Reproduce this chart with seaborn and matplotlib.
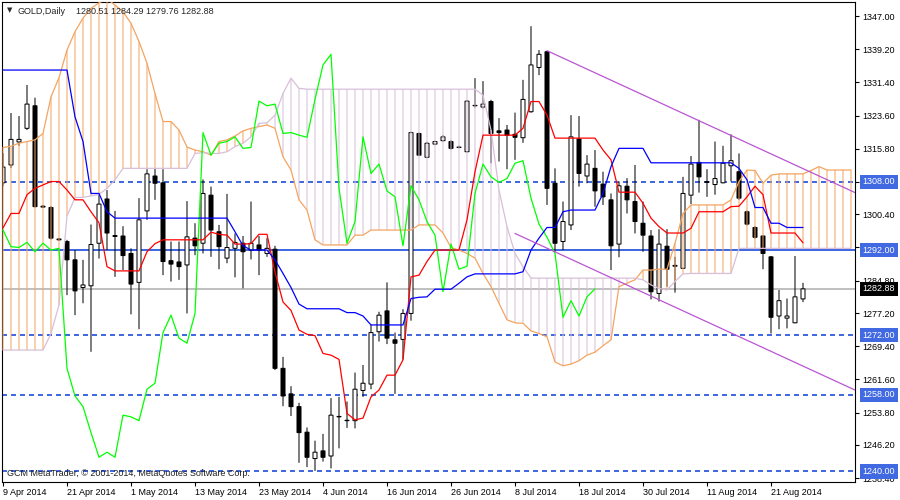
import matplotlib
matplotlib.use("Agg")
import numpy as np
import pandas as pd
import matplotlib.pyplot as plt
import seaborn as sns

# GOLD daily candles, one per trading day from 9 Apr 2014
opens = [1307.8, 1312.0, 1317.4, 1320.6, 1325.9, 1302.3, 1302.0, 1294.6, 1294.0, 1289.7,
         1283.2, 1283.6, 1293.6, 1304.0, 1295.4, 1295.3, 1291.2, 1284.4, 1301.2, 1309.4,
         1307.8, 1289.5, 1289.2, 1288.5, 1294.8, 1293.6, 1304.9, 1296.3, 1290.1, 1292.4,
         1293.6, 1292.0, 1293.2, 1291.2, 1292.2, 1264.2, 1258.2, 1255.2, 1249.2, 1243.0,
         1244.8, 1243.6, 1252.9, 1252.0, 1251.9, 1259.0, 1260.5, 1272.8, 1277.7, 1270.9,
         1271.0, 1277.1, 1319.4, 1313.8, 1316.9, 1317.7, 1317.5, 1316.2, 1315.1, 1326.0,
         1325.6, 1326.9, 1320.0, 1320.2, 1319.2, 1318.4, 1324.5, 1334.9, 1338.6, 1307.7,
         1294.0, 1297.9, 1318.1, 1309.4, 1311.2, 1307.5, 1303.8, 1293.4, 1307.0, 1303.4,
         1298.3, 1295.3, 1281.8, 1292.9, 1288.4, 1287.7, 1304.9, 1312.6, 1308.1, 1307.4,
         1307.8, 1311.8, 1310.4, 1301.0, 1297.3, 1295.3, 1290.4, 1276.5, 1276.0, 1274.9,
         1280.51]
highs = [1314.8, 1324.2, 1323.5, 1330.8, 1327.8, 1302.6, 1302.3, 1294.8, 1294.4, 1292.0,
         1289.7, 1298.0, 1305.3, 1306.1, 1301.2, 1297.6, 1292.4, 1304.2, 1311.0, 1311.2,
         1311.0, 1294.0, 1294.0, 1303.5, 1298.3, 1308.6, 1306.9, 1297.9, 1305.2, 1295.9,
         1295.3, 1303.4, 1295.3, 1294.8, 1293.0, 1266.9, 1260.0, 1256.1, 1250.3, 1247.2,
         1248.8, 1257.2, 1257.5, 1256.4, 1263.2, 1265.0, 1274.4, 1277.5, 1284.4, 1272.6,
         1278.1, 1319.8, 1319.6, 1317.4, 1317.7, 1319.0, 1317.8, 1316.5, 1327.2, 1332.4,
         1331.7, 1327.3, 1323.0, 1321.4, 1324.3, 1332.0, 1344.6, 1339.0, 1338.8, 1311.2,
         1303.4, 1323.7, 1323.5, 1314.3, 1315.5, 1310.4, 1305.3, 1308.1, 1308.9, 1312.0,
         1303.4, 1296.7, 1296.9, 1296.9, 1290.4, 1309.2, 1314.1, 1322.6, 1311.0, 1317.5,
         1316.5, 1319.2, 1314.7, 1301.3, 1297.6, 1295.5, 1290.6, 1282.6, 1280.6, 1290.6,
         1284.29]
lows = [1307.0, 1311.3, 1316.5, 1320.2, 1302.0, 1301.9, 1294.5, 1294.2, 1281.4, 1276.7,
        1279.5, 1268.1, 1290.0, 1292.0, 1285.7, 1287.3, 1276.9, 1273.4, 1299.1, 1303.8,
        1286.1, 1284.6, 1285.0, 1277.1, 1290.8, 1291.2, 1290.4, 1287.5, 1288.9, 1285.6,
        1283.0, 1289.8, 1286.1, 1290.4, 1263.8, 1255.3, 1253.0, 1242.0, 1241.0, 1240.1,
        1242.3, 1240.7, 1245.4, 1250.2, 1250.1, 1257.5, 1259.3, 1270.5, 1269.9, 1258.2,
        1266.3, 1275.4, 1314.2, 1313.8, 1316.7, 1317.5, 1315.6, 1315.9, 1315.0, 1325.5,
        1325.3, 1312.4, 1312.8, 1311.0, 1313.2, 1317.2, 1324.3, 1333.1, 1302.6, 1291.6,
        1292.0, 1296.7, 1306.9, 1307.7, 1302.2, 1302.6, 1287.3, 1290.3, 1300.6, 1295.9,
        1291.6, 1280.4, 1279.9, 1283.4, 1282.0, 1287.6, 1302.8, 1305.5, 1304.5, 1305.0,
        1307.7, 1308.1, 1303.8, 1297.8, 1294.7, 1287.5, 1272.4, 1273.4, 1273.6, 1274.8,
        1279.76]
closes = [1311.5, 1318.0, 1318.0, 1326.3, 1302.2, 1302.1, 1294.8, 1294.4, 1289.7, 1282.4,
          1283.8, 1293.3, 1302.8, 1296.0, 1295.2, 1290.7, 1284.0, 1299.1, 1309.9, 1307.7,
          1289.3, 1288.7, 1288.1, 1295.1, 1293.0, 1305.3, 1296.7, 1292.8, 1292.6, 1293.8,
          1291.6, 1293.6, 1292.0, 1292.4, 1264.2, 1257.7, 1255.2, 1249.1, 1243.3, 1244.5,
          1243.3, 1253.2, 1252.8, 1251.9, 1259.3, 1260.7, 1272.6, 1276.7, 1271.3, 1270.1,
          1277.1, 1319.6, 1314.3, 1317.1, 1317.5, 1318.6, 1315.9, 1316.1, 1327.0, 1325.9,
          1326.3, 1319.4, 1319.6, 1319.0, 1318.5, 1327.4, 1335.5, 1338.0, 1306.5, 1293.6,
          1298.7, 1318.6, 1310.0, 1312.2, 1305.9, 1304.5, 1293.0, 1307.1, 1303.8, 1298.7,
          1295.5, 1282.2, 1293.4, 1287.5, 1288.2, 1305.3, 1312.2, 1309.2, 1307.9, 1308.8,
          1312.4, 1313.0, 1304.2, 1298.1, 1295.0, 1291.2, 1276.2, 1280.1, 1276.5, 1281.0,
          1282.88]

# Ichimoku lines
tenkan = [1297.2, 1300.6, 1300.6, 1305.0, 1306.5, 1307.3, 1308.1, 1308.1, 1306.1, 1303.8,
          1303.8, 1301.0, 1298.4, 1288.1, 1287.1, 1287.1, 1287.1, 1287.1, 1291.6, 1293.5,
          1294.4, 1294.4, 1294.4, 1294.4, 1294.4, 1294.4, 1296.2, 1295.7, 1295.5, 1293.4,
          1293.4, 1293.5, 1295.7, 1295.7, 1286.8, 1279.8, 1277.8, 1273.2, 1272.2, 1271.9,
          1267.7, 1267.3, 1266.3, 1253.6, 1252.1, 1252.5, 1257.5, 1259.1, 1262.6, 1262.6,
          1266.2, 1285.7, 1286.1, 1289.3, 1292.0, 1292.0, 1292.0, 1292.0, 1299.1, 1310.4,
          1319.0, 1319.0, 1319.0, 1319.0, 1319.0, 1320.6, 1326.9, 1326.9, 1323.7, 1318.3,
          1318.3, 1318.3, 1318.3, 1318.3, 1318.3, 1315.5, 1313.2, 1305.6, 1305.6, 1305.6,
          1303.0, 1299.5, 1297.5, 1296.0, 1296.0, 1296.0, 1297.1, 1301.0, 1301.0, 1301.0,
          1301.0, 1302.2, 1302.3, 1304.5, 1307.0, 1305.0, 1296.0, 1296.0, 1296.0, 1296.0,
          1293.7]
kijun = [1334.3, 1334.3, 1334.3, 1334.3, 1334.3, 1334.3, 1334.3, 1334.3, 1334.3, 1323.3,
         1317.5, 1305.3, 1305.3, 1301.0, 1299.5, 1299.5, 1299.5, 1299.5, 1299.5, 1299.5,
         1299.5, 1299.5, 1299.5, 1299.5, 1299.5, 1299.5, 1299.5, 1299.5, 1299.5, 1296.3,
         1293.0, 1292.0, 1292.0, 1292.0, 1289.7, 1286.5, 1283.2, 1279.3, 1278.2, 1278.2,
         1278.2, 1278.2, 1278.2, 1277.3, 1277.3, 1276.5, 1274.4, 1274.4, 1274.4, 1274.4,
         1274.4, 1280.6, 1280.9, 1281.0, 1282.8, 1282.8, 1282.8, 1284.2, 1285.7, 1286.4,
         1286.4, 1286.4, 1286.4, 1286.4, 1286.4, 1286.9, 1292.0, 1294.8, 1297.3, 1297.3,
         1301.0, 1301.4, 1301.4, 1301.4, 1301.4, 1305.3, 1311.6, 1315.9, 1315.9, 1315.9,
         1315.9, 1312.5, 1312.5, 1312.5, 1312.5, 1312.5, 1312.5, 1312.5, 1312.5, 1312.5,
         1312.5, 1312.5, 1311.2, 1308.5, 1302.0, 1302.0, 1298.3, 1298.3, 1297.3, 1297.3,
         1297.3]
# cloud spans run 26 bars past the last candle (clipped by the axis)
senkou_a = [1316.1, 1316.4, 1317.1, 1317.5, 1317.9, 1319.4, 1328.0, 1332.5, 1339.0, 1343.3,
            1346.5, 1348.8, 1350.1, 1351.0, 1349.6, 1348.0, 1345.3, 1341.0, 1335.9, 1328.8,
            1322.2, 1322.2, 1320.2, 1316.2, 1315.5, 1315.1, 1314.3, 1317.5, 1317.9, 1318.8,
            1320.0, 1320.6, 1321.0, 1321.4, 1320.6, 1313.9, 1310.8, 1303.8, 1301.4, 1294.4,
            1293.2, 1293.2, 1293.2, 1293.2, 1295.5, 1295.5, 1296.7, 1296.7, 1296.7, 1296.7,
            1296.7, 1296.7, 1297.9, 1297.9, 1297.9, 1296.0, 1292.6, 1292.0, 1291.2, 1290.1,
            1286.5, 1283.4, 1279.5, 1275.6, 1274.9, 1274.8, 1273.0, 1272.4, 1271.6, 1265.7,
            1264.8, 1265.2, 1266.0, 1267.3, 1268.0, 1269.5, 1270.9, 1283.4, 1284.2, 1285.0,
            1287.3, 1287.3, 1287.5, 1287.5, 1293.6, 1300.6, 1302.6, 1302.6, 1302.6, 1302.6,
            1302.6, 1303.8, 1308.1, 1310.8, 1310.7, 1307.7, 1309.6, 1309.9, 1309.9, 1309.9,
            1309.9, 1310.7, 1311.6, 1310.8, 1310.8, 1310.8, 1310.8]
senkou_b = [1268.5, 1268.5, 1268.5, 1268.5, 1268.5, 1268.5, 1272.4, 1279.1, 1300.0, 1304.3,
            1304.4, 1304.7, 1305.1, 1306.5, 1308.5, 1311.2, 1311.2, 1311.2, 1311.2, 1311.2,
            1311.2, 1311.2, 1311.2, 1311.2, 1314.7, 1314.9, 1314.7, 1314.7, 1315.1, 1316.3,
            1317.1, 1318.6, 1321.8, 1321.9, 1323.7, 1328.8, 1332.4, 1330.0, 1329.8, 1329.8,
            1329.8, 1329.8, 1329.8, 1329.8, 1329.8, 1329.8, 1329.8, 1329.8, 1329.8, 1329.8,
            1329.8, 1329.8, 1329.8, 1329.8, 1329.8, 1329.8, 1329.8, 1329.8, 1329.8, 1329.8,
            1328.4, 1320.2, 1306.1, 1297.5, 1291.2, 1288.1, 1285.4, 1285.4, 1285.4, 1285.4,
            1285.4, 1285.4, 1285.4, 1285.4, 1285.4, 1285.4, 1285.4, 1285.4, 1285.4, 1285.4,
            1285.0, 1283.8, 1283.0, 1282.6, 1284.6, 1286.4, 1286.5, 1286.5, 1286.5, 1286.5,
            1286.5, 1286.5, 1292.4, 1292.4, 1292.4, 1292.4, 1292.4, 1292.4, 1292.4, 1292.4,
            1292.4, 1292.4, 1292.4, 1292.4, 1292.4, 1292.4, 1292.4]
chikou_shift = 26

date_labels = ["9 Apr 2014", "21 Apr 2014", "1 May 2014", "13 May 2014", "23 May 2014",
               "4 Jun 2014", "16 Jun 2014", "26 Jun 2014", "8 Jul 2014", "18 Jul 2014",
               "30 Jul 2014", "11 Aug 2014", "21 Aug 2014"]
price_ticks = [1347.0, 1339.2, 1331.4, 1323.6, 1315.8, 1308.0, 1300.4, 1292.6,
               1284.8, 1277.2, 1269.4, 1261.6, 1253.8, 1246.2, 1238.4]
dashed_levels = [1308.0, 1272.0, 1258.0, 1240.0]
solid_level = 1292.0
last_price = 1282.88

# drawn channel lines (bar index, price)
upper_trend_x = [68, 106.5]
upper_trend_y = [1338.85, 1305.5]
lower_trend_x = [64, 106.5]
lower_trend_y = [1295.9, 1259.1]

symbol_text = "GOLD,Daily"
ohlc_text = "1280.51 1284.29 1279.76 1282.88"
copyright_text = "GCM MetaTrader, \u00a9 2001-2014, MetaQuotes Software Corp."

sns.set_style("white")
plt.rcParams["font.family"] = ["Liberation Sans", "DejaVu Sans"]

fig = plt.figure(figsize=(9, 5), dpi=100)
ax = fig.add_axes([2 / 900, 18 / 500, 853 / 900, 480 / 500])

bars = np.arange(len(closes))
cloud_bars = np.arange(len(senkou_a))
o, h, l, c = map(np.array, (opens, highs, lows, closes))
sa, sb = np.array(senkou_a), np.array(senkou_b)

PX = 0.72   # one pixel at 100 dpi
LINE = 0.9  # indicator lines
vert = dict(lw=PX, snap=False)
horiz = dict(lw=0.8, antialiased=False, snap=False)

# price levels
for lv in dashed_levels:
    ax.axhline(lv, color="#4169E1", ls=(0, (3.6, 3.6)), zorder=1, **horiz)
ax.axhline(solid_level, color="#4169E1", zorder=1, **horiz)
ax.axhline(last_price, color="#C0C0C0", zorder=1, **horiz)

# candles
ax.vlines(bars, l, h, color="black", zorder=2, **vert)
body_lo = np.minimum(o, c)
body_h = np.abs(c - o)
fills = np.where(c >= o, "white", "black")
ax.bar(bars, body_h, bottom=body_lo, width=0.5, color=fills,
       edgecolor="black", linewidth=PX, zorder=2.5, snap=False)

# cloud hatching
hatch_cols = np.where(sa >= sb, "#F4A460", "#D8BFD8")
ax.vlines(cloud_bars, np.minimum(sa, sb), np.maximum(sa, sb), colors=list(hatch_cols),
          zorder=3, **vert)

cloud = pd.DataFrame({"bar": cloud_bars, "a": sa, "b": sb})
lines = pd.DataFrame({"bar": bars, "tenkan": tenkan, "kijun": kijun})
chikou = pd.DataFrame({"bar": bars[:len(closes) - chikou_shift],
                       "price": c[chikou_shift:]})

line_kw = dict(lw=LINE, ax=ax)
sns.lineplot(data=cloud, x="bar", y="a", color="#F4A460", zorder=3.5, **line_kw)
sns.lineplot(data=cloud, x="bar", y="b", color="#D8BFD8", zorder=3.5, **line_kw)
sns.lineplot(data=chikou, x="bar", y="price", color="#00FF00", zorder=4, **line_kw)
sns.lineplot(data=lines, x="bar", y="tenkan", color="#FF0000", zorder=4, **line_kw)
sns.lineplot(data=lines, x="bar", y="kijun", color="#0000FF", zorder=4, **line_kw)

ax.plot(upper_trend_x, upper_trend_y, color="#BA55D3", lw=LINE, zorder=4.5)
ax.plot(lower_trend_x, lower_trend_y, color="#BA55D3", lw=LINE, zorder=4.5)

# 8 px per bar, bar centres on whole pixels
ax.set_xlim(-0.125, -0.125 + 853 / 8)
ax.set_ylim(1237.49, 1350.29)
ax.set_xlabel("")
ax.set_ylabel("")

for sp in ax.spines.values():
    sp.set_color("black")
    sp.set_linewidth(0.8)

ax.yaxis.tick_right()
ax.set_yticks(price_ticks)
ax.set_yticklabels(["" if t in (1308.0, 1292.6) else f"{t:.2f}" for t in price_ticks])
ax.set_xticks(range(0, 8 * len(date_labels), 8))
ax.set_xticklabels(date_labels, ha="left")
ax.tick_params(axis="y", which="both", right=True, left=False, length=3, width=0.8,
               pad=2.5, labelsize=6.5, colors="black")
ax.tick_params(axis="x", bottom=True, length=3, width=0.8, pad=1.5,
               labelsize=6.5, colors="black")

# level tags on the price scale
ytrans = ax.get_yaxis_transform()
for lv in dashed_levels + [solid_level]:
    ax.text(1.0088, lv, f"{lv:.2f}", transform=ytrans, ha="left", va="center",
            color="white", fontsize=6.5, clip_on=False, zorder=10,
            bbox=dict(boxstyle="square,pad=0.3", fc="#4169E1", ec="none"))
ax.text(1.0088, last_price, f"{last_price:.2f}", transform=ytrans, ha="left",
        va="center", color="white", fontsize=6.5, clip_on=False, zorder=10,
        bbox=dict(boxstyle="square,pad=0.3", fc="black", ec="none"))

fig.text(7 / 900, 1 - 10.5 / 500, "\u25bc", fontsize=5, va="center", ha="left",
         family="DejaVu Sans")
fig.text(18 / 900, 1 - 11 / 500, symbol_text, fontsize=6.5, va="center", ha="left")
fig.text(76 / 900, 1 - 11 / 500, ohlc_text, fontsize=6.5, va="center", ha="left")
fig.text(7 / 900, 1 - 474 / 500, copyright_text, fontsize=6.5, va="center",
         ha="left", color="#202020")

fig.savefig("out.png", dpi=100)
